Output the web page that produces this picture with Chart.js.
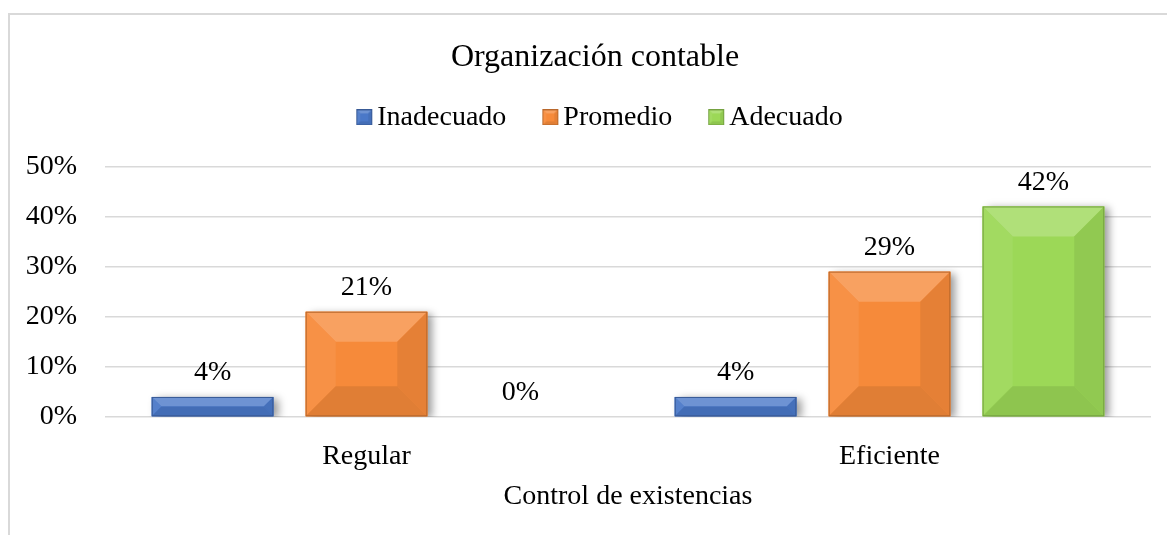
<!DOCTYPE html>
<html lang="es">
<head>
<meta charset="utf-8">
<title>Organización contable</title>
<script src="https://cdn.jsdelivr.net/npm/chart.js@4.4.1/dist/chart.umd.min.js"></script>
<style>
  html, body { margin: 0; padding: 0; background: #fff; }
  #wrap { position: relative; width: 1167px; height: 535px; overflow: hidden; }
  #frame { position: absolute; left: 8px; top: 13px; width: 1200px; height: 600px;
           border-left: 2px solid #d9d9d9; border-top: 2px solid #d9d9d9; }
  #chart { position: absolute; left: 0; top: 0; }
</style>
</head>
<body>
<div id="wrap">
  <div id="frame"></div>
  <canvas id="chart" width="1167" height="535"></canvas>
</div>
<script>
// ---- data ----
const categories = ["Regular", "Eficiente"];
const seriesNames = ["Inadecuado", "Promedio", "Adecuado"];
const inadecuado = [4, 4];
const promedio = [21, 29];
const adecuado = [0, 42];
const yTicks = [0, 10, 20, 30, 40, 50];

const seriesColors = ["#4A78C8", "#F68A3A", "#9CD857"];
const FONT = '"Liberation Serif", "Times New Roman", serif';

// mix a hex colour toward white (amt > 0) or black (amt < 0)
function shade(hex, amt) {
    const n = parseInt(hex.slice(1), 16);
    const t = amt < 0 ? 0 : 255, p = Math.abs(amt);
    const c = [n >> 16, (n >> 8) & 255, n & 255].map(v => Math.round(v + (t - v) * p));
    return `rgb(${c[0]},${c[1]},${c[2]})`;
}

// office-style bevelled rectangle
function bevelRect(ctx, l, t, r, b, color, bev) {
    const face = (pts, fill) => {
        ctx.beginPath();
        ctx.moveTo(pts[0][0], pts[0][1]);
        pts.slice(1).forEach(p => ctx.lineTo(p[0], p[1]));
        ctx.closePath();
        ctx.fillStyle = fill;
        ctx.fill();
    };
    ctx.fillStyle = color;
    ctx.fillRect(l, t, r - l, b - t);
    face([[l, t], [r, t], [r - bev, t + bev], [l + bev, t + bev]], shade(color, 0.2));
    face([[l, t], [l + bev, t + bev], [l + bev, b - bev], [l, b]], shade(color, 0.06));
    face([[r, t], [r, b], [r - bev, b - bev], [r - bev, t + bev]], shade(color, -0.07));
    face([[l, b], [r, b], [r - bev, b - bev], [l + bev, b - bev]], shade(color, -0.09));
    ctx.strokeStyle = shade(color, -0.25);
    ctx.lineWidth = 1;
    ctx.strokeRect(l + 0.5, t + 0.5, r - l - 1, b - t - 1);
}

// bevelled legend squares; drawn right of centre so the text sits close
const legendIcons = seriesColors.map(col => {
    const c = document.createElement("canvas");
    c.width = 52; c.height = 16;
    bevelRect(c.getContext("2d"), 27, 0, 43, 16, col, 4);
    return c;
});

// ------------------- PLUGINS -------------------
const legendGap = {
    id: "legendGap",
    beforeInit(chart) {
        const fit = chart.legend.fit;
        chart.legend.fit = function () {
            fit.bind(chart.legend)();
            this.height += 25;
        };
    }
};

const bevelBars = {
    id: "bevelBars",
    beforeDatasetsDraw(chart) {
        const ctx = chart.ctx;
        ctx.save();
        ctx.shadowColor = "rgba(0,0,0,0.4)";
        ctx.shadowBlur = 8;
        ctx.shadowOffsetX = 5;
        ctx.shadowOffsetY = 2;
    },
    afterDatasetsDraw(chart) {
        const ctx = chart.ctx;
        ctx.restore();
        chart.data.datasets.forEach((ds, di) => {
            const meta = chart.getDatasetMeta(di);
            meta.data.forEach((bar, i) => {
                const { x, y, base, width } = bar.getProps(["x", "y", "base", "width"], true);
                const l = x - width / 2, r = x + width / 2;
                const top = Math.min(y, base), bot = Math.max(y, base);
                if (bot - top >= 1) {
                    bevelRect(ctx, l, top, r, bot, ds.backgroundColor, Math.min(30, (bot - top) / 2, width / 2));
                }
                ctx.save();
                ctx.fillStyle = "#000";
                ctx.font = "28px " + FONT;
                ctx.textAlign = "center";
                ctx.textBaseline = "middle";
                ctx.fillText(ds.data[i] + "%", x, top - 24);
                ctx.restore();
            });
        });
    }
};

// ------------------- CHART -------------------
Chart.defaults.font.family = FONT;
Chart.defaults.color = "#000";

new Chart(document.getElementById("chart"), {
    type: "bar",
    data: {
        labels: categories,
        datasets: [inadecuado, promedio, adecuado].map((vals, i) => ({
            label: seriesNames[i],
            data: vals,
            backgroundColor: seriesColors[i],
            borderWidth: 0,
            yAxisID: "y",
            categoryPercentage: 0.883,
            barPercentage: 0.79
        }))
    },
    options: {
        responsive: false,
        animation: false,
        devicePixelRatio: 1,
        layout: { padding: { left: 26, right: 3, top: 0, bottom: 0 } },
        plugins: {
            tooltip: { enabled: false },
            title: {
                display: true,
                text: "Organización contable",
                color: "#000",
                font: { size: 32, weight: "normal" },
                padding: { top: 38, bottom: 0 }
            },
            legend: {
                position: "top",
                labels: {
                    usePointStyle: true,
                    pointStyleWidth: 16,
                    boxWidth: 16,
                    boxHeight: 16,
                    padding: 27,
                    color: "#000",
                    font: { size: 28 },
                    generateLabels(chart) {
                        return chart.data.datasets.map((ds, i) => ({
                            text: ds.label,
                            pointStyle: legendIcons[i],
                            fillStyle: ds.backgroundColor,
                            strokeStyle: ds.backgroundColor,
                            lineWidth: 0,
                            hidden: false,
                            datasetIndex: i
                        }));
                    }
                }
            }
        },
        scales: {
            x: {
                grid: { display: false, drawTicks: false },
                border: { display: false },
                ticks: { padding: 23, font: { size: 28 }, color: "#000" },
                title: {
                    display: true,
                    text: "Control de existencias",
                    color: "#000",
                    font: { size: 28 },
                    padding: { top: 6, bottom: 22 }
                },
                afterFit(scale) { scale.height = 118; }
            },
            y: {
                min: yTicks[0],
                max: yTicks[yTicks.length - 1],
                afterBuildTicks(scale) {
                    scale.ticks = yTicks.map(v => ({ value: v }));
                },
                grid: { color: "#d9d9d9", lineWidth: 1.5, drawTicks: false },
                border: { display: false },
                ticks: {
                    padding: 28,
                    font: { size: 28 },
                    color: "#000",
                    callback: v => v + "%"
                },
                afterFit(scale) { scale.width = 79; }
            },
            // empty right-hand spacer so the plot ends where the reference does
            yRight: {
                position: "right",
                grid: { display: false, drawTicks: false },
                border: { display: false },
                ticks: { display: false },
                afterFit(scale) { scale.width = 13; }
            }
        }
    },
    plugins: [legendGap, bevelBars]
});
</script>
</body>
</html>
